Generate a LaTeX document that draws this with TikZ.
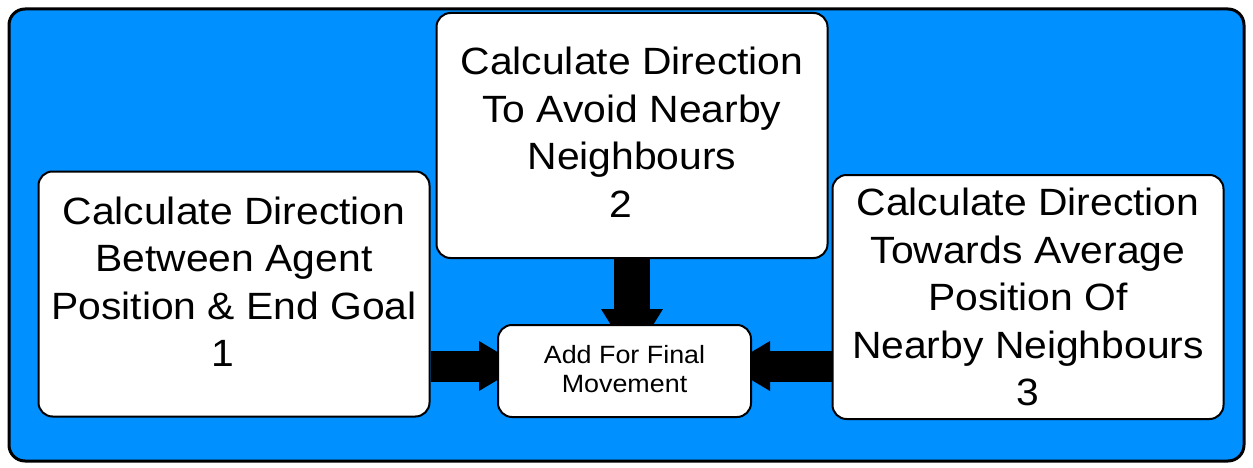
\documentclass[tikz,border=0pt]{standalone}
\usepackage{fontspec}
\setmainfont{Liberation Sans}[FakeStretch=1.075]
\usepackage{tikz}
\usetikzlibrary{arrows.meta,calc,backgrounds}
\definecolor{frameblue}{RGB}{0,144,255}
\tikzset{
    % the three direction boxes
    dirbox/.style={
        draw=black,
        line width=2pt,
        fill=white,
        rounded corners=14pt,
        align=center,
        inner sep=0pt,
        font=\fontsize{38}{47.5}\selectfont,
        minimum width=391pt,
        minimum height=245pt
    },
    % the box in the middle
    sumbox/.style={
        draw=black,
        line width=2pt,
        fill=white,
        rounded corners=14pt,
        align=center,
        inner sep=0pt,
        font=\fontsize{25}{29}\selectfont,
        minimum width=253pt,
        minimum height=92pt
    },
    fatarrow/.style={
        line width=31pt,
        black,
        -{Triangle[length=42pt, width=50pt, line width=0pt]}
    },
    fatdownarrow/.style={
        line width=36pt,
        black,
        -{Triangle[length=50pt, width=62pt, line width=0pt]}
    }
}

\begin{document}
\begin{tikzpicture}[x=1pt,y=-1pt]
	\useasboundingbox (0,0) rectangle (1253,468);
	
	% boxes
	\node[dirbox,text depth=25pt] (goal) at (234,294)
		{Calculate Direction\\Between Agent\\Position \& End Goal\\1\hspace*{22pt}};
	\node[dirbox,text depth=7pt] (avoid) at (632,135.5)
		{Calculate Direction\\To Avoid Nearby\\Neighbours\hspace*{16pt}\\2\hspace*{22pt}};
	\node[dirbox,minimum height=244pt] (average) at (1028,297)
		{Calculate Direction\\Towards Average\hspace*{18pt}\\Position Of\\Nearby Neighbours\\3};
	\node[sumbox,text depth=5pt] (add) at (624.5,371)
		{Add For Final\\Movement};
	
	\begin{scope}[on background layer]
		% blue frame
		\draw[line width=3pt,fill=frameblue,rounded corners=16pt] (9,9) rectangle (1244,461);
		
		% arrows
		\draw[fatarrow] ($(goal.east |- add.west)+(0,-5)$) -- ($(add.west)+(24,-5)$);
		\draw[fatdownarrow] (avoid.south) -- ($(avoid.south |- add.north)+(0,35)$);
		\draw[fatarrow] ($(average.west |- add.east)+(0,-5)$) -- ($(add.east)+(-24,-5)$);
	\end{scope}
\end{tikzpicture}
\end{document}
